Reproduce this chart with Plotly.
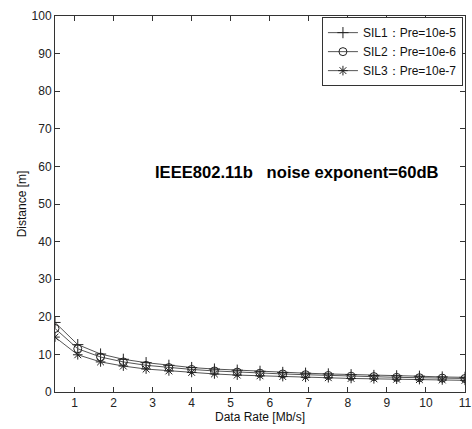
import numpy as np
import plotly.graph_objects as go

rate = [0.5, 1.083, 1.667, 2.25, 2.833, 3.417, 4.0, 4.583, 5.167, 5.75,
        6.333, 6.917, 7.5, 8.083, 8.667, 9.25, 9.833, 10.417, 11.0]
sil1 = [18.5, 12.6, 10.1, 8.7, 7.8, 7.1, 6.5, 6.1, 5.8, 5.5, 5.2, 5.0, 4.8, 4.6, 4.4, 4.3, 4.2, 4.0, 3.9]
sil2 = [16.9, 11.5, 9.3, 8.0, 7.1, 6.5, 6.0, 5.6, 5.3, 5.0, 4.8, 4.6, 4.4, 4.2, 4.1, 3.9, 3.8, 3.7, 3.6]
sil3 = [14.6, 9.9, 8.0, 6.9, 6.1, 5.6, 5.2, 4.8, 4.5, 4.3, 4.1, 3.9, 3.8, 3.6, 3.5, 3.4, 3.3, 3.2, 3.1]
names = ["SIL1：Pre=10e-5", "SIL2：Pre=10e-6", "SIL3：Pre=10e-7"]
symbols = ["cross-thin-open", "circle-open", "asterisk-open"]
xticks = list(range(1, 12))
yticks = list(range(0, 101, 10))

FONT = "Liberation Sans, Arial, sans-serif"
fig = go.Figure()
for ys, nm, sym in zip([sil1, sil2, sil3], names, symbols):
    fig.add_trace(go.Scatter(
        x=rate, y=ys, name=nm, mode="lines+markers",
        line=dict(color="#555555", width=1),
        marker=dict(symbol=sym, size=8, color="#222222", line=dict(width=1, color="#222222")),
    ))

axis_common = dict(
    showline=True, linecolor="#333333", linewidth=1, mirror="ticks",
    ticks="inside", ticklen=5, tickcolor="#333333", showgrid=False, zeroline=False,
    tickfont=dict(family=FONT, size=12, color="#222222"),
    ticklabeloverflow="allow", automargin=False,
)
fig.update_xaxes(range=[0.5, 11], tickvals=xticks,
                 title=dict(text="Data Rate [Mb/s]", font=dict(family=FONT, size=12, color="#111111"), standoff=3),
                 **axis_common)
fig.update_yaxes(range=[0, 100], tickvals=yticks,
                 title=dict(text="Distance [m]", font=dict(family=FONT, size=12, color="#111111"), standoff=2),
                 **axis_common)

fig.add_annotation(
    x=6.7, y=58.4, xref="x", yref="y", showarrow=False,
    text="<b>IEEE802.11b\u00a0\u00a0\u00a0noise exponent=60dB</b>",
    font=dict(family=FONT, size=16.6, color="#000000"),
)

fig.update_layout(
    width=472, height=429,
    margin=dict(l=55, r=7, t=16, b=37),
    plot_bgcolor="white", paper_bgcolor="white",
    showlegend=True,
    legend=dict(x=0.995, y=0.997, xanchor="right", yanchor="top",
                bgcolor="white", bordercolor="#333333", borderwidth=1,
                font=dict(family=FONT, size=12, color="#111111"),
                tracegroupgap=0, itemwidth=30),
)
fig.write_html("out.html")
